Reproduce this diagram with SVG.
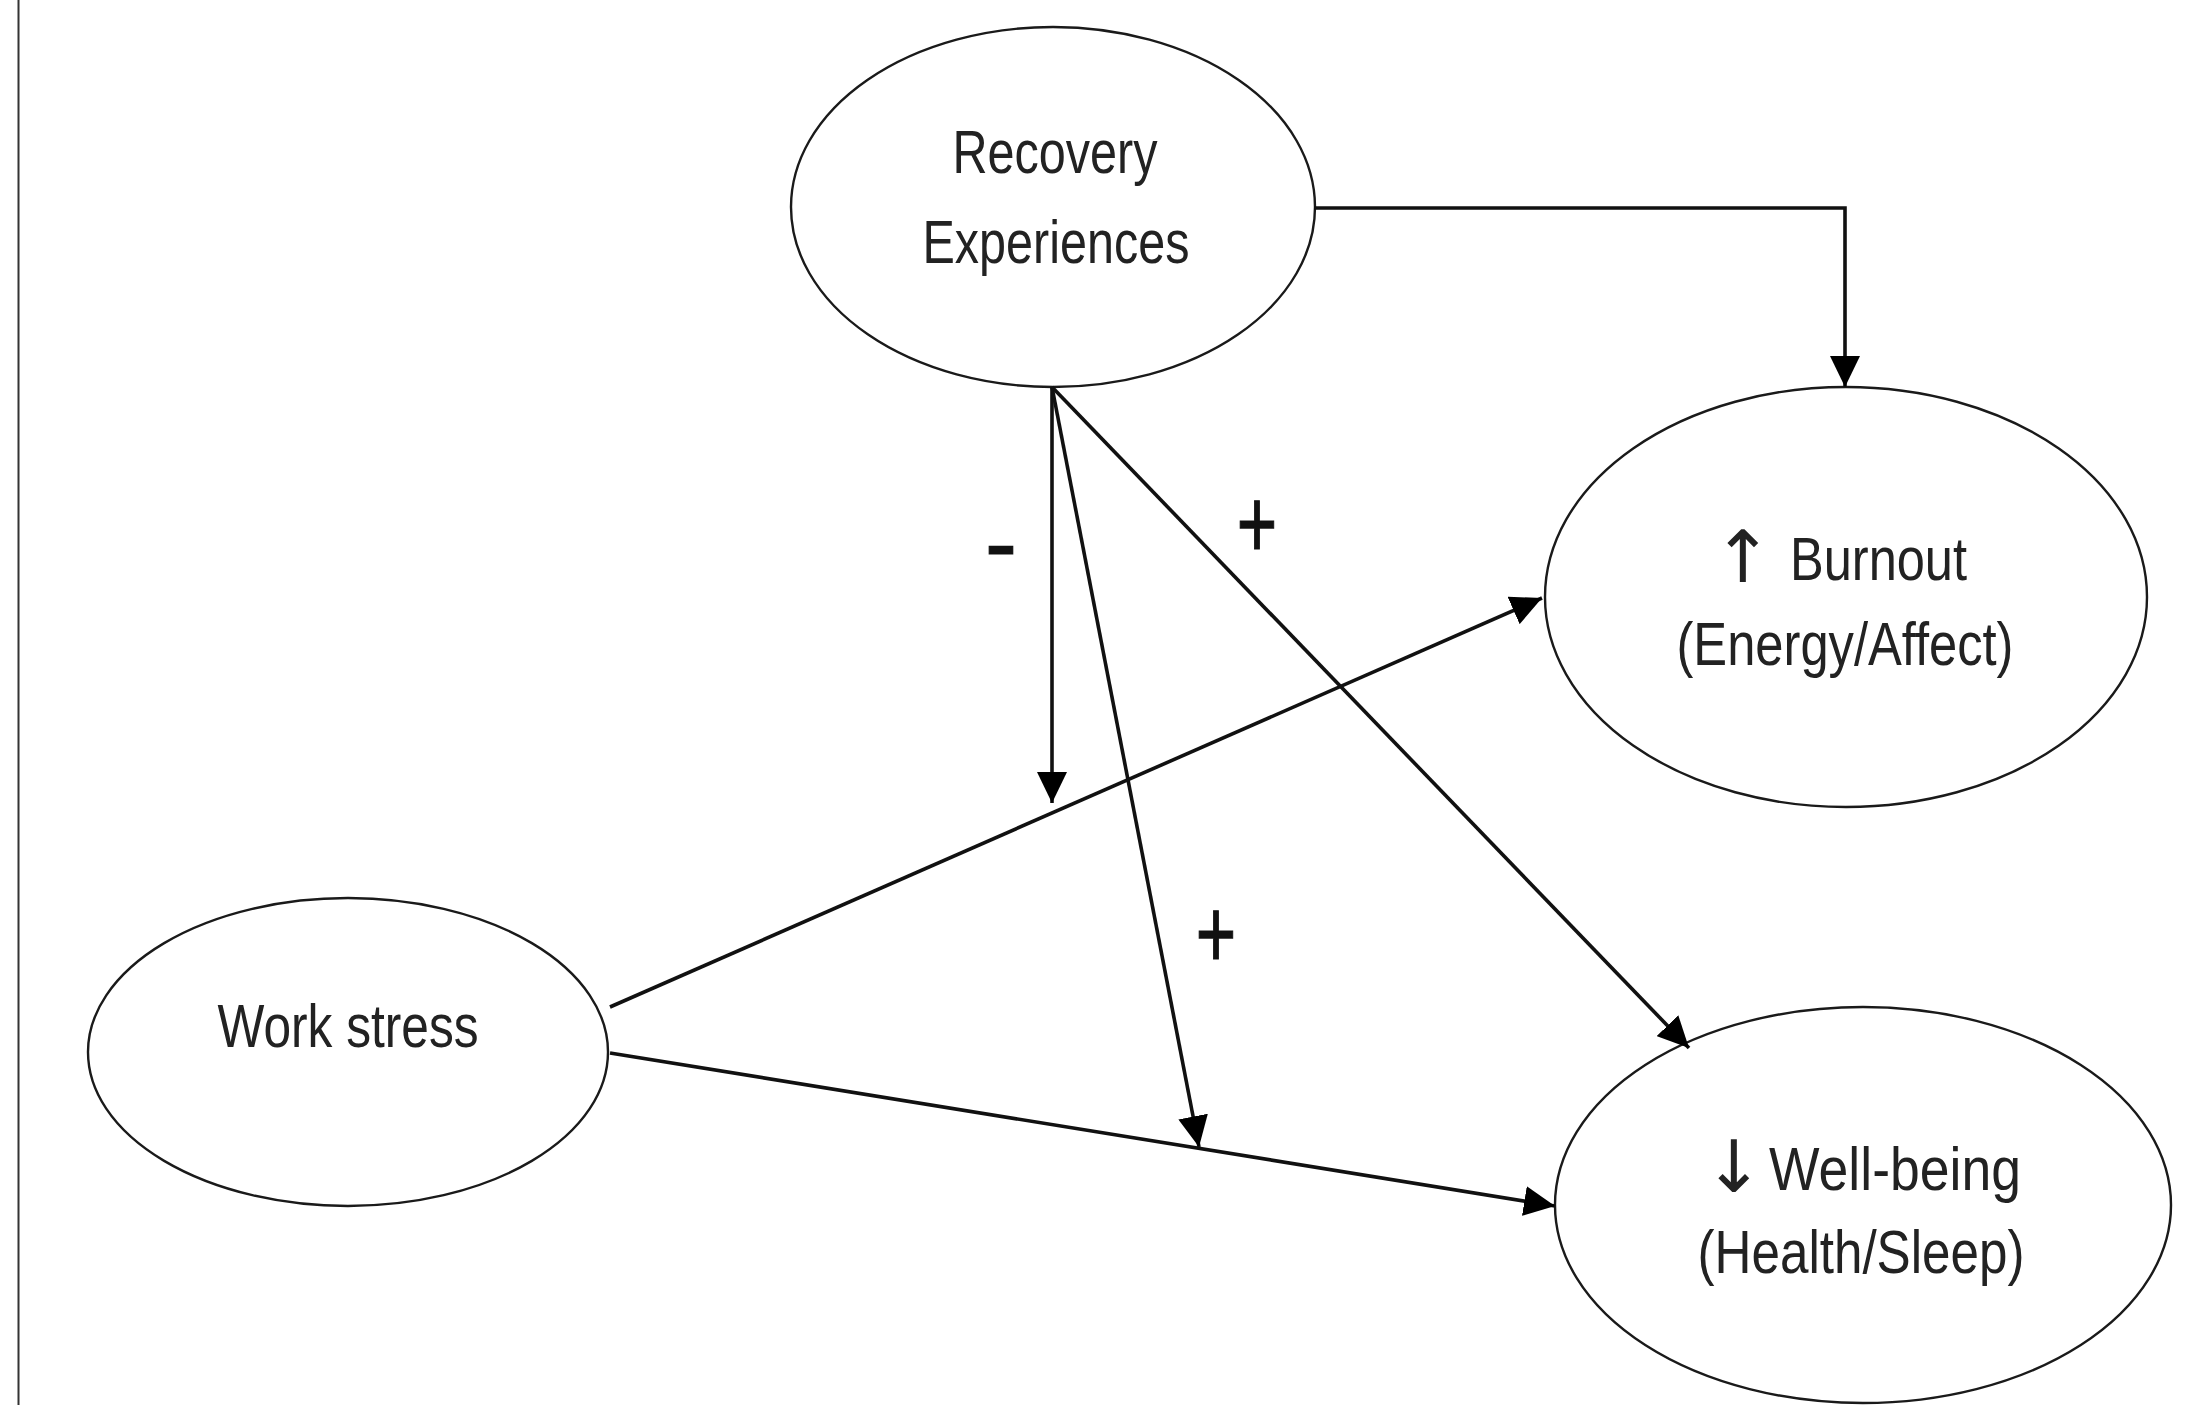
<svg xmlns="http://www.w3.org/2000/svg" width="2204" height="1405" viewBox="0 0 2204 1405">
<defs>
<style>
.node ellipse{fill:#fff;stroke:#1a1a1a;stroke-width:2.4}
.lbl{font-family:"Liberation Sans","DejaVu Sans",Arial,sans-serif;font-size:62px;fill:#222;text-anchor:middle}
.start{text-anchor:start}
.arw{font-family:"DejaVu Sans",sans-serif;font-size:72px;fill:#222;text-anchor:middle}
.conn{fill:none;stroke:#111;stroke-width:3.6}
.sign{font-family:"Liberation Sans",Arial,sans-serif;fill:#111;stroke:#111;stroke-width:1.2;text-anchor:middle}
</style>
<marker id="arr" markerUnits="userSpaceOnUse" markerWidth="32" markerHeight="30" viewBox="0 0 32 30" refX="31" refY="15" orient="auto">
<path d="M0,0 L31,15 L0,30 z" fill="#000"/>
</marker>
</defs>
<rect width="2204" height="1405" fill="#fff"/>
<line x1="18.5" y1="0" x2="18.5" y2="1405" stroke="#333" stroke-width="2"/>

<g id="recovery" class="node">
<ellipse cx="1053" cy="207" rx="262" ry="180"/>
<text class="lbl" x="1055" y="173" textLength="205" lengthAdjust="spacingAndGlyphs">Recovery</text>
<text class="lbl" x="1056" y="263" textLength="267" lengthAdjust="spacingAndGlyphs">Experiences</text>
</g>

<g id="burnout" class="node">
<ellipse cx="1846" cy="597" rx="301" ry="210"/>
<text class="arw" x="1743" y="582">↑</text>
<text class="lbl start" x="1790" y="580" textLength="177" lengthAdjust="spacingAndGlyphs">Burnout</text>
<text class="lbl" x="1845" y="665" textLength="337" lengthAdjust="spacingAndGlyphs">(Energy/Affect)</text>
</g>

<g id="workstress" class="node">
<ellipse cx="348" cy="1052" rx="260" ry="154"/>
<text class="lbl" x="348" y="1047" textLength="261" lengthAdjust="spacingAndGlyphs">Work stress</text>
</g>

<g id="wellbeing" class="node">
<ellipse cx="1863" cy="1205" rx="308" ry="198"/>
<text class="arw" x="1734" y="1192">↓</text>
<text class="lbl start" x="1769" y="1190" textLength="252" lengthAdjust="spacingAndGlyphs">Well-being</text>
<text class="lbl" x="1861" y="1273" textLength="327" lengthAdjust="spacingAndGlyphs">(Health/Sleep)</text>
</g>

<g id="connectors">
<path class="conn" d="M1314,208 H1845 V387" marker-end="url(#arr)"/>
<path class="conn" d="M1052,387 V803" marker-end="url(#arr)"/>
<path class="conn" d="M1052,387 L1199,1147" marker-end="url(#arr)"/>
<path class="conn" d="M1052,387 L1689,1048" marker-end="url(#arr)"/>
<path class="conn" d="M610,1007 L1542,598" marker-end="url(#arr)"/>
<path class="conn" d="M610,1053 L1555,1206" marker-end="url(#arr)"/>
<text class="sign" x="1001" y="576" font-size="96">-</text>
<text class="sign" transform="translate(1257,558) scale(0.7,1)" x="0" y="0" font-size="99">+</text>
<text class="sign" transform="translate(1216,968) scale(0.7,1)" x="0" y="0" font-size="99">+</text>
</g>
</svg>
